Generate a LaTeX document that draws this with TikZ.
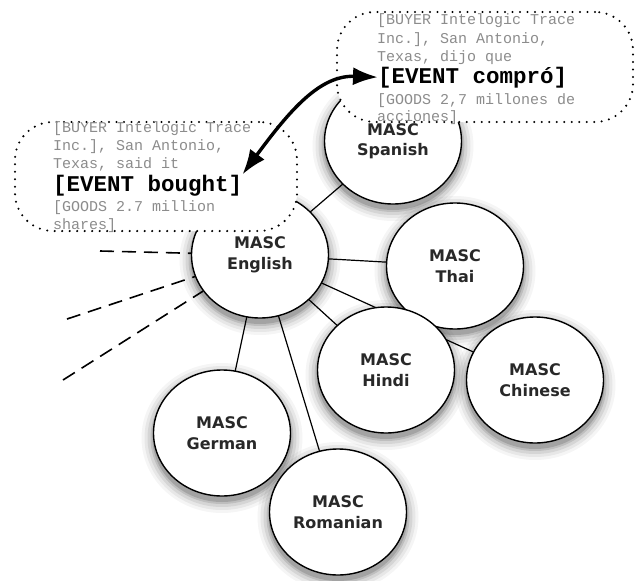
\documentclass[tikz,border=0pt]{standalone}
\usepackage{fontspec}
\newfontfamily\monofont{Liberation Mono}
\newfontfamily\labelfont{DejaVu Sans}
\usetikzlibrary{shapes.geometric,arrows.meta}
\definecolor{txtgray}{RGB}{140,140,140}
\definecolor{lblgray}{RGB}{40,40,40}
\pgfdeclarelayer{bg}
\pgfsetlayers{bg,main}
\begin{document}
\begin{tikzpicture}[x=1pt,y=-1pt,
  lang/.style={ellipse, draw=black, line width=1.4pt, fill=white, minimum width=137pt, minimum height=126pt, inner sep=0pt, font=\labelfont\bfseries\fontsize{16}{20.5}\selectfont, text=lblgray, align=center},
  link/.style={line width=1.2pt},
  ray/.style={line width=1.6pt, dash pattern=on 14pt off 8pt},
  callout/.style={draw=black, fill=white, line width=2.3pt, dash pattern=on 0pt off 7.5pt, line cap=round, rounded corners=38pt, inner sep=0pt},
  small/.style={anchor=base west, inner sep=0pt, font=\monofont\fontsize{15}{19}\selectfont, text=txtgray},
  big/.style={anchor=base west, inner sep=0pt, font=\monofont\bfseries\fontsize{22.5}{26}\selectfont, text=black},
  biarrow/.style={line width=3.4pt, {Latex[length=25pt,width=18pt]}-{Latex[length=25pt,width=18pt]}}
]
\useasboundingbox (0,0) rectangle (635,581);

% language circles
\node[lang] (English)  at (260,255) {MASC\\English};
\node[lang] (Spanish)  at (393,141) {MASC\\Spanish};
\node[lang] (Thai)     at (455,266) {MASC\\Thai};
\node[lang] (Hindi)    at (386,370) {MASC\\Hindi};
\node[lang] (Chinese)  at (535,380) {MASC\\Chinese};
\node[lang] (German)   at (222,433) {MASC\\German};
\node[lang] (Romanian) at (338,512) {MASC\\Romanian};

\begin{pgfonlayer}{bg}
  \foreach \n in {English,Spanish,Thai,Hindi,Chinese,German,Romanian}{
    \foreach \r/\o in {12/0.04,9/0.06,6/0.08,3/0.11,1/0.14}{
      \fill[black, opacity=\o] ([yshift=-5pt]\n.center) ellipse [x radius=68.5+\r, y radius=63+\r];
    }
  }
  \foreach \t in {Spanish,Thai,Hindi,Chinese,German,Romanian}{
    \draw[link] (English.center) -- (\t.center);
  }
\end{pgfonlayer}

% dashed rays
\coordinate (d1) at (100,251);
\coordinate (d2) at (67,319);
\coordinate (d3) at (63,380);
\draw[ray] (d1) -- (English);
\draw[ray] (d2) -- (English);
\draw[ray] (d3) -- (English);

% callouts
\node[callout, minimum width=296pt, minimum height=110pt] (calS) at (485,67) {};
\node[callout, minimum width=282pt, minimum height=109pt] (calE) at (156,176.5) {};

\node[small] (sb1) at (377,24.5) {[BUYER Intelogic Trace};
\node[small] (sb2) at (377,43.5) {Inc.], San Antonio,};
\node[small] (sb3) at (377,61.5) {Texas, dijo que};
\node[big]   (sb4) at (378,83) {[EVENT compró]};
\node[small] (sb5) at (377,104.5) {[GOODS 2,7 millones de};
\node[small] (sb6) at (377,121.5) {acciones]};

\node[small] (eb1) at (53,132.5) {[BUYER Intelogic Trace};
\node[small] (eb2) at (53,150.5) {Inc.], San Antonio,};
\node[small] (eb3) at (53,168.5) {Texas, said it};
\node[big]   (eb4) at (53,191) {[EVENT bought]};
\node[small] (eb5) at (53,211.5) {[GOODS 2.7 million};
\node[small] (eb6) at (53,229.5) {shares]};

\draw[biarrow] (eb4.north east) .. controls (290,110) and (320,75) .. (sb4.west);
\end{tikzpicture}
\end{document}
